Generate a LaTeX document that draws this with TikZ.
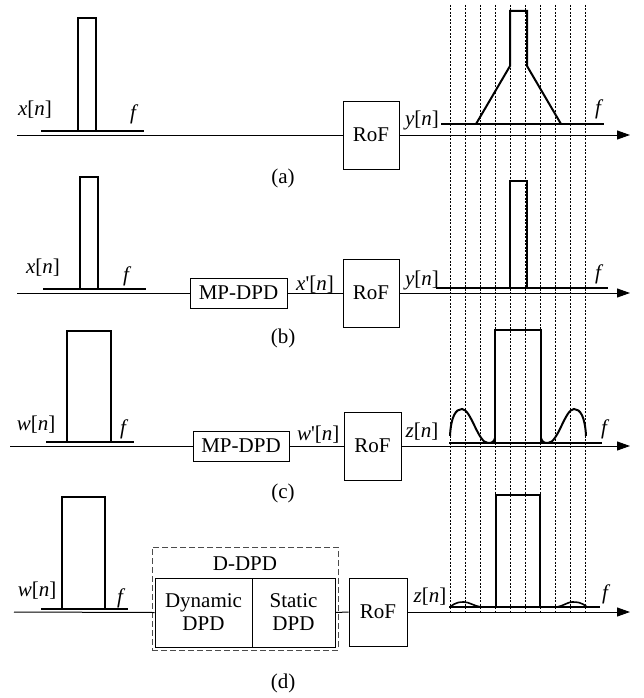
\documentclass[tikz,border=0pt]{standalone}
\usepackage{fontspec}
\setmainfont{Liberation Serif}
\usetikzlibrary{arrows.meta}
\begin{document}
\begin{tikzpicture}[x=1pt,y=-1pt,
  every node/.style={font=\fontsize{21}{23}\selectfont},
  blk/.style={draw,line width=0.9pt,inner sep=0pt,align=center},
  dbox/.style={draw=black!70,line width=1pt,dash pattern=on 6pt off 3pt,inner sep=0pt},
  ax/.style={line width=1pt},
  arr/.style={line width=1pt,-{Triangle[length=13pt,width=9pt]}},
  spec/.style={line width=2pt,line join=miter},
  vl/.style={line width=0.7pt,dash pattern=on 2pt off 1.5pt},
  lab/.style={anchor=base,inner sep=0pt},
  sublabel/.style={inner sep=0pt}]
\useasboundingbox[fill=white] (0,0) rectangle (643,698);

% dashed vertical guide lines
\foreach \k in {0,...,9}{
  \draw[vl] ({450+15*\k},5) -- ({450+15*\k},613);
}

% ---------------- (a) ----------------
\coordinate (a0) at (17,135);
\coordinate (a1) at (630,135);
\node[blk,minimum width=56pt,minimum height=68pt] (rofA) at (371,135) {RoF};
\draw[ax] (a0) -- (rofA.west);
\draw[arr] (rofA.east) -- (a1);
\draw[spec] (41,131) -- (144,131);
\draw[spec] (78,131) -- (78,18) -- (96,18) -- (96,131);
\draw[spec] (441,124) -- (604,124);
\draw[spec] (476,124) -- (510,66) -- (510,11) -- (527,11) -- (527,66) -- (561,124);
\node[lab] (xa) at (35,116) {\itshape x\upshape[\itshape n\upshape]};
\node[lab] (fa) at (133,120) {\itshape f};
\node[lab] (ya) at (422,125) {\itshape y\upshape[\itshape n\upshape]};
\node[lab] (fa2) at (598,114) {\itshape f};
\node[sublabel] (capa) at (283,178) {(a)};

% ---------------- (b) ----------------
\coordinate (b0) at (17,293);
\coordinate (b1) at (630,293);
\node[blk,minimum width=97pt,minimum height=30pt] (mpB) at (238.5,293) {MP-DPD};
\node[blk,minimum width=56pt,minimum height=68pt] (rofB) at (371,293) {RoF};
\draw[ax] (b0) -- (mpB.west);
\draw[ax] (mpB.east) -- (rofB.west);
\draw[arr] (rofB.east) -- (b1);
\draw[spec] (43,289) -- (146,289);
\draw[spec] (80,289) -- (80,177) -- (98,177) -- (98,289);
\draw[spec] (436,288) -- (608,288);
\draw[spec] (510,288) -- (510,181) -- (527,181) -- (527,288);
\node[lab] (xb) at (43,273) {\itshape x\upshape[\itshape n\upshape]};
\node[lab] (fb) at (126,281) {\itshape f};
\node[lab,anchor=base west] (xpb) at (296,290) {\itshape x\upshape\textquotesingle[\itshape n\upshape]};
\node[lab] (yb) at (422,285) {\itshape y\upshape[\itshape n\upshape]};
\node[lab] (fb2) at (598,279) {\itshape f};
\node[sublabel] (capb) at (283,338) {(b)};

% ---------------- (c) ----------------
\coordinate (c0) at (10,446);
\coordinate (c1) at (630,446);
\node[blk,minimum width=96pt,minimum height=30pt] (mpC) at (241,446) {MP-DPD};
\node[blk,minimum width=57pt,minimum height=68pt] (rofC) at (372.5,446) {RoF};
\draw[ax] (c0) -- (mpC.west);
\draw[ax] (mpC.east) -- (rofC.west);
\draw[arr] (rofC.east) -- (c1);
\draw[spec] (46,442) -- (134,442);
\draw[spec] (67,442) -- (67,331) -- (111,331) -- (111,442);
\draw[spec] (449,443) -- (602,443);
\draw[spec] (495,443) -- (495,330) -- (541,330) -- (541,443);
\draw[spec] (450,436) .. controls (451,416) and (456,409) .. (462,409)
  .. controls (471,409) and (478,443) .. (488,443)
  .. controls (492,443) and (494,442) .. (495,438);
\draw[spec] (586,436) .. controls (585,416) and (580,409) .. (574,409)
  .. controls (565,409) and (558,443) .. (548,443)
  .. controls (544,443) and (542,442) .. (541,438);
\node[lab] (wc) at (36,430) {\itshape w\upshape[\itshape n\upshape]};
\node[lab] (fc) at (123,434) {\itshape f};
\node[lab,anchor=base west] (wpc) at (297,440) {\itshape w\upshape\textquotesingle[\itshape n\upshape]};
\node[lab] (zc) at (422,437) {\itshape z\upshape[\itshape n\upshape]};
\node[lab] (fc2) at (604,434) {\itshape f};
\node[sublabel] (capc) at (283,493) {(c)};

% ---------------- (d) ----------------
\coordinate (d0) at (14,612);
\coordinate (d1) at (630,612);
\node[dbox,minimum width=186pt,minimum height=103pt] (ddpd) at (245,598.5) {};
\node[inner sep=0pt] (ddpdt) at (245,564) {D-DPD};
\node[blk,minimum width=97pt,minimum height=69pt] (dyn) at (203.5,612.5) {Dynamic\\DPD};
\node[blk,minimum width=83pt,minimum height=69pt] (stat) at (293.5,612.5) {Static\\DPD};
\node[blk,minimum width=58pt,minimum height=68pt] (rofD) at (378,612) {RoF};
\draw[ax] (d0) -- (dyn.west);
\draw[ax] (stat.east) -- (rofD.west);
\draw[arr] (rofD.east) -- (d1);
\draw[spec] (41,609) -- (128,609);
\draw[spec] (62,609) -- (62,497) -- (105,497) -- (105,609);
\draw[spec] (449,607) -- (600,607);
\draw[spec] (496,607) -- (496,495) -- (540,495) -- (540,607);
\draw[line width=1.6pt] (450,607) .. controls (456,602) and (460,602) .. (464,602)
  .. controls (469,602) and (474,606) .. (481,607);
\draw[line width=1.6pt] (557,607) .. controls (563,606) and (568,602) .. (572,602)
  .. controls (577,602) and (581,602) .. (587,607);
\node[lab] (wd) at (37,596) {\itshape w\upshape[\itshape n\upshape]};
\node[lab] (fd) at (120,603) {\itshape f};
\node[lab] (zd) at (430,602) {\itshape z\upshape[\itshape n\upshape]};
\node[lab] (fd2) at (605,599) {\itshape f};
\node[sublabel] (capd) at (283,683) {(d)};
\end{tikzpicture}
\end{document}
